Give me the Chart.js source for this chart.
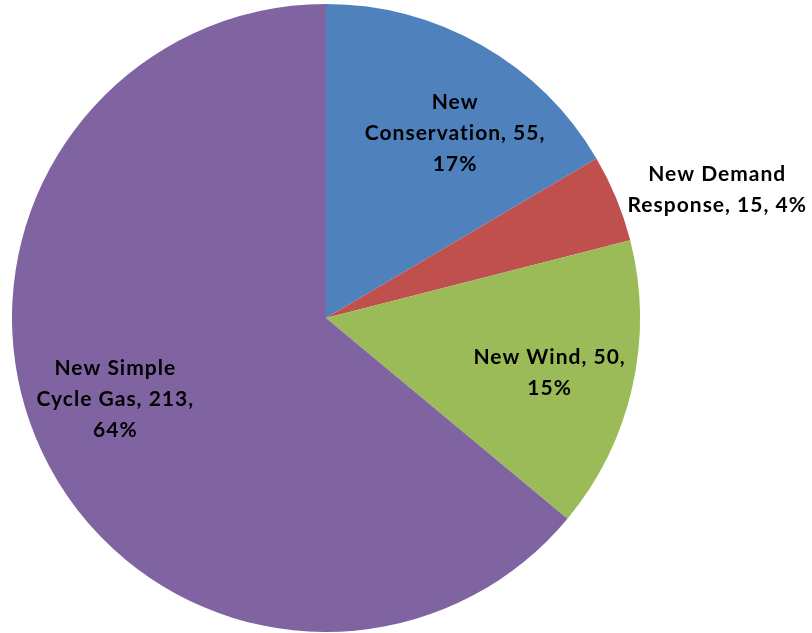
<!DOCTYPE html>
<html>
<head>
<meta charset="utf-8">
<script src="https://cdn.jsdelivr.net/npm/chart.js@4"></script>
<style>
  html, body { margin: 0; padding: 0; background: #fff; }
  #wrap { width: 812px; height: 633px; }
</style>
</head>
<body>
<div id="wrap"><canvas id="pieChart" width="812" height="633"></canvas></div>
<script>
// Dados do gráfico
const categories = ['New Conservation', 'New Demand Response', 'New Wind', 'New Simple Cycle Gas'];
const values = [55, 15, 50, 213];
const percentLabels = ['17%', '4%', '15%', '64%'];
const labelLines = [
    ['New', 'Conservation, 55,', '17%'],
    ['New Demand', 'Response, 15, 4%'],
    ['New Wind, 50,', '15%'],
    ['New Simple', 'Cycle Gas, 213,', '64%']
];
const colors = ['#4F81BD', '#C0504D', '#9BBB59', '#8064A2'];

// Posição dos rótulos: fração do raio + ajuste em pixels
const labelPlace = [
    { f: 0.72, dx: 17, dy: 12 },
    { f: 1.31, dx: 11, dy: 29 },
    { f: 0.73, dx: 0, dy: 4 },
    { f: 0.72, dx: -6, dy: -15 }
];

const pieLabels = {
    id: 'pieLabels',
    afterDatasetsDraw(chart) {
        const ctx = chart.ctx;
        const meta = chart.getDatasetMeta(0);
        ctx.save();
        ctx.font = 'bold 21px Lato';
        ctx.letterSpacing = '1px';
        ctx.fillStyle = '#000';
        ctx.textAlign = 'center';
        ctx.textBaseline = 'middle';
        meta.data.forEach((arc, i) => {
            const p = arc.getProps(['x', 'y', 'startAngle', 'endAngle', 'outerRadius'], true);
            const a = (p.startAngle + p.endAngle) / 2;
            const pl = labelPlace[i];
            const cx = p.x + Math.cos(a) * p.outerRadius * pl.f + pl.dx;
            const cy = p.y + Math.sin(a) * p.outerRadius * pl.f + pl.dy;
            const lines = labelLines[i];
            const lh = 31;
            lines.forEach((t, j) => {
                ctx.fillText(t, cx, cy + (j - (lines.length - 1) / 2) * lh);
            });
        });
        ctx.restore();
    }
};

new Chart(document.getElementById('pieChart').getContext('2d'), {
    type: 'pie',
    data: {
        labels: categories,
        datasets: [{
            data: values,
            backgroundColor: colors,
            borderWidth: 0
        }]
    },
    options: {
        responsive: false,
        animation: false,
        layout: { padding: { left: 12, right: 172, top: 4, bottom: 1 } },
        plugins: {
            legend: { display: false },
            tooltip: { enabled: false }
        }
    },
    plugins: [pieLabels]
});
</script>
</body>
</html>
